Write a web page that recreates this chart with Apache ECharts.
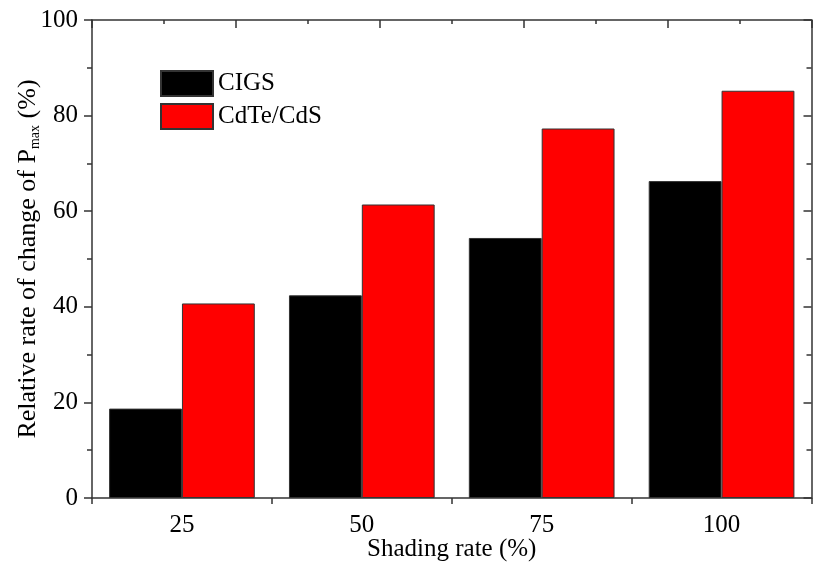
<!DOCTYPE html>
<html>
<head>
<meta charset="utf-8">
<script src="https://cdn.jsdelivr.net/npm/echarts@6/dist/echarts.min.js"></script>
<style>
  html, body { margin: 0; padding: 0; background: #fff; }
  #chart { width: 813px; height: 570px; }
</style>
</head>
<body>
<div id="chart"></div>
<script>
const categories = ['25', '50', '75', '100'];
const cigs = [18.7, 42.4, 54.4, 66.3];
const cdte = [40.7, 61.4, 77.3, 85.2];

const font = 'Liberation Serif';
const axisColor = '#333';

let myChart = echarts.init(document.getElementById('chart'), null, {renderer: 'canvas'});

const option = {
  backgroundColor: '#fff',
  animation: false,
  textStyle: { fontFamily: font, color: '#000' },
  grid: { left: 92, right: 1.5, top: 20, bottom: 72, containLabel: false, outerBoundsMode: 'none' },
  legend: {
    orient: 'vertical',
    left: 160,
    top: 70,
    padding: 0,
    icon: 'rect',
    itemWidth: 52,
    itemHeight: 25,
    itemGap: 6,
    textStyle: { fontFamily: font, fontSize: 25, color: '#000' },
    data: ['CIGS', 'CdTe/CdS']
  },
  xAxis: [
    {
      type: 'category',
      data: categories,
      position: 'bottom',
      name: 'Shading rate (%)',
      nameLocation: 'middle',
      nameGap: 39,
      nameMoveOverlap: false,
      nameTextStyle: { fontFamily: font, fontSize: 25, color: '#000' },
      axisLine: { onZero: false, lineStyle: { color: axisColor, width: 1.5 } },
      axisTick: { show: true, length: 6, interval: 0, lineStyle: { color: axisColor, width: 1.5 } },
      axisLabel: { fontFamily: font, fontSize: 25, color: '#000', margin: 15 },
      splitLine: { show: false }
    },
    {
      type: 'value',
      position: 'top',
      min: 0,
      max: 5,
      interval: 1,
      axisLine: { show: true, onZero: false, lineStyle: { color: axisColor, width: 1.5 } },
      axisTick: { show: true, inside: true, length: 8, lineStyle: { color: axisColor, width: 1.5 } },
      minorTick: { show: true, splitNumber: 2, length: 4, lineStyle: { color: axisColor, width: 1.5 } },
      axisLabel: { show: false },
      splitLine: { show: false }
    }
  ],
  yAxis: [
    {
      type: 'value',
      min: 0,
      max: 100,
      interval: 20,
      position: 'left',
      name: 'Relative rate of change of P{sub|max} (%)',
      nameLocation: 'middle',
      nameGap: 50,
      nameMoveOverlap: false,
      nameTextStyle: {
        fontFamily: font, fontSize: 26, color: '#000',
        rich: {
          sub: { fontFamily: font, fontSize: 14, color: '#000', verticalAlign: 'bottom', padding: [13, 0, 0, 0] }
        }
      },
      axisLine: { show: true, onZero: false, lineStyle: { color: axisColor, width: 1.5 } },
      axisTick: { show: true, length: 8, lineStyle: { color: axisColor, width: 1.5 } },
      minorTick: { show: true, splitNumber: 2, length: 5, lineStyle: { color: axisColor, width: 1.5 } },
      axisLabel: { fontFamily: font, fontSize: 25, color: '#000', margin: 14 },
      splitLine: { show: false }
    },
    {
      type: 'value',
      min: 0,
      max: 100,
      interval: 20,
      position: 'right',
      axisLine: { show: true, onZero: false, lineStyle: { color: axisColor, width: 1.5 } },
      axisTick: { show: true, inside: true, length: 8, lineStyle: { color: axisColor, width: 1.5 } },
      minorTick: { show: true, splitNumber: 2, length: 5, lineStyle: { color: axisColor, width: 1.5 } },
      axisLabel: { show: false },
      splitLine: { show: false }
    }
  ],
  series: [
    {
      name: 'CIGS',
      type: 'bar',
      data: cigs,
      barGap: '0%',
      barCategoryGap: '19%',
      itemStyle: { color: '#000', borderColor: '#333', borderWidth: 1 }
    },
    {
      name: 'CdTe/CdS',
      type: 'bar',
      data: cdte,
      barGap: '0%',
      barCategoryGap: '19%',
      itemStyle: { color: '#ff0000', borderColor: '#333', borderWidth: 1 }
    }
  ]
};

myChart.setOption(option);
</script>
</body>
</html>
